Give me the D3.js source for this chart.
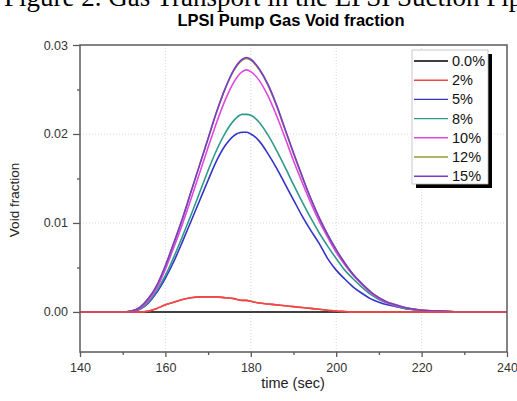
<!DOCTYPE html>
<html>
<head>
<meta charset="utf-8">
<script src="https://cdn.jsdelivr.net/npm/d3@7"></script>
<style>
  body { margin: 0; background: #fff; }
  svg { display: block; font-family: Arial, "Liberation Sans", sans-serif; }
</style>
</head>
<body>
<div id="chart"></div>
<script>
// sample times (sec)
const times = [140, 150, 152, 154, 156, 158, 160, 162, 164, 166,
               168, 170, 172, 174, 176, 178, 179, 180, 182, 184,
               186, 188, 190, 192, 194, 196, 198, 200, 202, 204,
               206, 208, 210, 212, 214, 216, 220, 225, 230, 240];

const seriesNames = ['0.0%', '2%', '5%', '8%', '10%', '12%', '15%'];

const void0 = times.map(() => 0);
const void2 = [0, 0, 0, 0, 0.0001, 0.0004, 0.0008, 0.0011, 0.0014, 0.0016,
               0.0017, 0.0017, 0.0017, 0.0016, 0.0015, 0.0013, 0.0013, 0.0012, 0.0010, 0.0009,
               0.0008, 0.0007, 0.0006, 0.0005, 0.0004, 0.0003, 0.0002, 0.0001, 0.00005, 0,
               0, 0, 0, 0, 0, 0, 0, 0, 0, 0];
const void5 = [0, 0, 0, 0.0003, 0.0010, 0.0022, 0.0038, 0.0057, 0.0079, 0.0102,
               0.0125, 0.0148, 0.0170, 0.0187, 0.0198, 0.0202, 0.0202, 0.0200, 0.0192, 0.0178,
               0.0162, 0.0144, 0.0126, 0.0108, 0.0092, 0.0077, 0.0060, 0.0047, 0.0037, 0.0028,
               0.0021, 0.0015, 0.0011, 0.0008, 0.0006, 0.0004, 0.0002, 0.00005, 0, 0];
const void8 = [0, 0, 0.0001, 0.0003, 0.0011, 0.0024, 0.0041, 0.0062, 0.0085, 0.0109,
               0.0134, 0.0159, 0.0182, 0.0201, 0.0215, 0.0222, 0.0222, 0.0221, 0.0213, 0.0199,
               0.0182, 0.0163, 0.0143, 0.0124, 0.0106, 0.0089, 0.0074, 0.0060, 0.0047, 0.0037,
               0.0028, 0.0020, 0.0014, 0.0010, 0.0007, 0.0004, 0.0002, 0.0001, 0, 0];
const void10 = [0, 0, 0.0001, 0.0004, 0.0013, 0.0027, 0.0048, 0.0073, 0.0099, 0.0127,
                0.0156, 0.0185, 0.0213, 0.0238, 0.0258, 0.0270, 0.0272, 0.0270, 0.0260, 0.0243,
                0.0221, 0.0196, 0.0170, 0.0146, 0.0123, 0.0102, 0.0084, 0.0067, 0.0053, 0.0041,
                0.0031, 0.0022, 0.0015, 0.0010, 0.0007, 0.0005, 0.0002, 0.0001, 0, 0];
const void12 = [0, 0, 0.0001, 0.0005, 0.0015, 0.0030, 0.0052, 0.0078, 0.0105, 0.0135,
                0.0165, 0.0195, 0.0225, 0.0251, 0.0271, 0.0283, 0.0285, 0.0283, 0.0272, 0.0255,
                0.0232, 0.0205, 0.0178, 0.0152, 0.0128, 0.0106, 0.0087, 0.0070, 0.0055, 0.0042,
                0.0032, 0.0023, 0.0016, 0.0011, 0.0008, 0.0005, 0.0002, 0.0001, 0, 0];
const void15 = [0, 0, 0.0001, 0.0005, 0.0015, 0.0030, 0.0052, 0.0078, 0.0105, 0.0135,
                0.0165, 0.0195, 0.0225, 0.0251, 0.0272, 0.0284, 0.0286, 0.0284, 0.0273, 0.0256,
                0.0233, 0.0206, 0.0179, 0.0153, 0.0128, 0.0106, 0.0087, 0.0070, 0.0055, 0.0042,
                0.0032, 0.0023, 0.0016, 0.0011, 0.0008, 0.0005, 0.0002, 0.0001, 0, 0];

const xTicks = [140, 160, 180, 200, 220, 240];
const yTicks = [0, 0.01, 0.02, 0.03];

const WIDTH = 517;
const HEIGHT = 401;
const colors = ['#000000', '#f04848', '#3434c8', '#2f9a8a', '#e046e0', '#9a9a30', '#7a3ccc'];
const values = [void0, void2, void5, void8, void10, void12, void15];

const svg = d3.select('#chart')
    .append('svg')
    .attr('width', WIDTH)
    .attr('height', HEIGHT);

const x = d3.scaleLinear().domain([140, 240]).range([80, 507]);
const y = d3.scaleLinear().domain([-0.0045, 0.03]).range([352, 45]);

// caption, cut off by the top edge as in the source
svg.append('text')
    .attr('x', 4)
    .attr('y', 6)
    .attr('font-family', '"Liberation Serif", "DejaVu Serif", serif')
    .attr('font-size', 27)
    .attr('fill', '#000')
    .text('Figure 2. Gas Transport in the LPSI Suction Pipe');

svg.append('text')
    .attr('x', 291)
    .attr('y', 26)
    .attr('text-anchor', 'middle')
    .attr('font-size', 16.5)
    .attr('font-weight', 'bold')
    .attr('fill', '#000')
    .text('LPSI Pump Gas Void fraction');

// grid
const grid = svg.append('g')
    .attr('stroke', '#d8d8d8')
    .attr('stroke-width', 1)
    .attr('stroke-dasharray', '1,2');
grid.selectAll('line.gx')
    .data([160, 180, 200, 220])
    .enter()
    .append('line')
    .attr('x1', d => x(d)).attr('x2', d => x(d))
    .attr('y1', y.range()[0]).attr('y2', y.range()[1]);
grid.selectAll('line.gy')
    .data([0.01, 0.02])
    .enter()
    .append('line')
    .attr('x1', x.range()[0]).attr('x2', x.range()[1])
    .attr('y1', d => y(d)).attr('y2', d => y(d));

// curves
const line = d3.line()
    .x((d, i) => x(times[i]))
    .y(d => y(d))
    .curve(d3.curveMonotoneX);

svg.selectAll('path.series')
    .data(values)
    .enter()
    .append('path')
    .attr('class', 'series')
    .attr('d', d => line(d))
    .attr('fill', 'none')
    .attr('stroke', (d, i) => colors[i])
    .attr('stroke-width', 1.6);

// redraw the 2% trace on top of the zero line
svg.append('path')
    .attr('d', line(void2))
    .attr('fill', 'none')
    .attr('stroke', colors[1])
    .attr('stroke-width', 1.6);

// frame
svg.append('rect')
    .attr('x', x.range()[0])
    .attr('y', y.range()[1])
    .attr('width', x.range()[1] - x.range()[0])
    .attr('height', y.range()[0] - y.range()[1])
    .attr('fill', 'none')
    .attr('stroke', '#5a5a5a')
    .attr('stroke-width', 1.5);

// axes
const xAxis = svg.append('g')
    .attr('transform', `translate(0,${y.range()[0]})`)
    .call(d3.axisBottom(x).tickValues(xTicks).tickSize(5).tickFormat(d3.format('d')));
svg.append('g')
    .attr('transform', `translate(0,${y.range()[0]})`)
    .call(d3.axisBottom(x).tickValues([150, 170, 190, 210, 230]).tickSize(3).tickFormat(''));
const yAxis = svg.append('g')
    .attr('transform', `translate(${x.range()[0]},0)`)
    .call(d3.axisLeft(y).tickValues(yTicks).tickSize(7).tickPadding(5).tickFormat(d3.format('.2f')));
svg.append('g')
    .attr('transform', `translate(${x.range()[0]},0)`)
    .call(d3.axisLeft(y).tickValues([0.005, 0.015, 0.025]).tickSize(3).tickFormat(''));

svg.selectAll('.domain').remove();
svg.selectAll('.tick line').attr('stroke', '#5a5a5a').attr('stroke-width', 1.3);
svg.selectAll('.tick text')
    .attr('font-family', 'Arial, "Liberation Sans", sans-serif')
    .attr('font-size', 12.5)
    .attr('fill', '#333');
xAxis.selectAll('.tick text').attr('dy', '0.95em');

svg.append('text')
    .attr('x', 293)
    .attr('y', 388)
    .attr('text-anchor', 'middle')
    .attr('font-size', 14.5)
    .attr('fill', '#222')
    .text('time (sec)');

svg.append('text')
    .attr('transform', 'translate(19,200) rotate(-90)')
    .attr('text-anchor', 'middle')
    .attr('font-size', 13.5)
    .attr('fill', '#222')
    .text('Void fraction');

// legend
const legend = svg.append('g').attr('transform', 'translate(412,50)');
legend.append('rect')
    .attr('x', 4).attr('y', 4)
    .attr('width', 76).attr('height', 134)
    .attr('fill', '#000');
legend.append('rect')
    .attr('width', 76).attr('height', 134)
    .attr('fill', '#fff')
    .attr('stroke', '#bbb')
    .attr('stroke-width', 0.8);
const rows = legend.selectAll('g.row')
    .data(seriesNames)
    .enter()
    .append('g')
    .attr('transform', (d, i) => `translate(0,${11 + i * 19.2})`);
rows.append('line')
    .attr('x1', 2).attr('x2', 36)
    .attr('stroke', (d, i) => colors[i])
    .attr('stroke-width', 1.4);
rows.append('text')
    .attr('x', 40)
    .attr('y', 5)
    .attr('font-size', 14.5)
    .attr('fill', '#111')
    .text(d => d);
</script>
</body>
</html>
